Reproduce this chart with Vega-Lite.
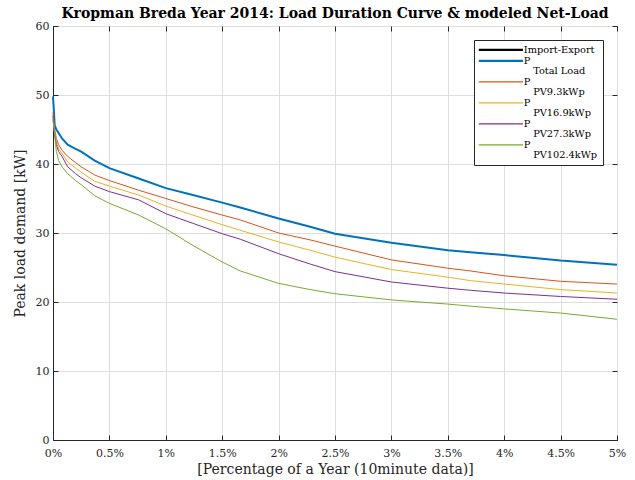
{
  "$schema": "https://vega.github.io/schema/vega-lite/v6.json",
  "width": 564,
  "height": 414,
  "autosize": {"type": "none"},
  "padding": {"left": 53, "top": 26, "right": 18, "bottom": 40},
  "background": "white",
  "title": {
    "text": "Kropman Breda Year 2014: Load Duration Curve & modeled Net-Load",
    "font": "DejaVu Serif",
    "fontSize": 14,
    "fontWeight": "bold",
    "color": "black",
    "anchor": "middle",
    "baseline": "bottom",
    "offset": 1,
    "dy": 16
  },
  "config": {
    "font": "DejaVu Serif",
    "view": {"stroke": "#262626", "strokeWidth": 1},
    "axis": {
      "labelFont": "DejaVu Serif",
      "titleFont": "DejaVu Serif",
      "labelFontSize": 11,
      "titleFontSize": 14,
      "titleFontWeight": "normal",
      "labelColor": "#262626",
      "titleColor": "#262626",
      "domainColor": "#262626",
      "tickColor": "#262626",
      "gridColor": "#dedede",
      "gridWidth": 1
    },
    "line": {"clip": true}
  },
  "datasets": {
    "curves": [
      {"pct": 0, "series": "Total Load", "kW": 49.8}, {"pct": 0.005, "series": "Total Load", "kW": 48.5}, {"pct": 0.015, "series": "Total Load", "kW": 45.6}, {"pct": 0.03, "series": "Total Load", "kW": 45.0}, {"pct": 0.05, "series": "Total Load", "kW": 44.5}, {"pct": 0.08, "series": "Total Load", "kW": 43.7}, {"pct": 0.13, "series": "Total Load", "kW": 42.8}, {"pct": 0.2, "series": "Total Load", "kW": 42.2}, {"pct": 0.25, "series": "Total Load", "kW": 41.8}, {"pct": 0.37, "series": "Total Load", "kW": 40.5}, {"pct": 0.5, "series": "Total Load", "kW": 39.4}, {"pct": 0.76, "series": "Total Load", "kW": 37.9}, {"pct": 1.0, "series": "Total Load", "kW": 36.5}, {"pct": 1.24, "series": "Total Load", "kW": 35.5}, {"pct": 1.5, "series": "Total Load", "kW": 34.4}, {"pct": 1.66, "series": "Total Load", "kW": 33.7}, {"pct": 2.0, "series": "Total Load", "kW": 32.1}, {"pct": 2.28, "series": "Total Load", "kW": 30.9}, {"pct": 2.5, "series": "Total Load", "kW": 29.9}, {"pct": 3.0, "series": "Total Load", "kW": 28.6}, {"pct": 3.5, "series": "Total Load", "kW": 27.5}, {"pct": 3.7, "series": "Total Load", "kW": 27.2}, {"pct": 4.0, "series": "Total Load", "kW": 26.8}, {"pct": 4.5, "series": "Total Load", "kW": 26.0}, {"pct": 5.0, "series": "Total Load", "kW": 25.4},
      {"pct": 0, "series": "PV9.3kWp", "kW": 47.5}, {"pct": 0.005, "series": "PV9.3kWp", "kW": 46.5}, {"pct": 0.015, "series": "PV9.3kWp", "kW": 45.0}, {"pct": 0.03, "series": "PV9.3kWp", "kW": 43.7}, {"pct": 0.05, "series": "PV9.3kWp", "kW": 42.8}, {"pct": 0.08, "series": "PV9.3kWp", "kW": 42.0}, {"pct": 0.13, "series": "PV9.3kWp", "kW": 41.1}, {"pct": 0.2, "series": "PV9.3kWp", "kW": 40.2}, {"pct": 0.25, "series": "PV9.3kWp", "kW": 39.6}, {"pct": 0.37, "series": "PV9.3kWp", "kW": 38.4}, {"pct": 0.5, "series": "PV9.3kWp", "kW": 37.6}, {"pct": 0.76, "series": "PV9.3kWp", "kW": 36.2}, {"pct": 1.0, "series": "PV9.3kWp", "kW": 35.0}, {"pct": 1.24, "series": "PV9.3kWp", "kW": 33.8}, {"pct": 1.5, "series": "PV9.3kWp", "kW": 32.6}, {"pct": 1.66, "series": "PV9.3kWp", "kW": 31.9}, {"pct": 2.0, "series": "PV9.3kWp", "kW": 30.0}, {"pct": 2.28, "series": "PV9.3kWp", "kW": 29.0}, {"pct": 2.5, "series": "PV9.3kWp", "kW": 28.1}, {"pct": 3.0, "series": "PV9.3kWp", "kW": 26.1}, {"pct": 3.5, "series": "PV9.3kWp", "kW": 24.9}, {"pct": 3.7, "series": "PV9.3kWp", "kW": 24.5}, {"pct": 4.0, "series": "PV9.3kWp", "kW": 23.8}, {"pct": 4.5, "series": "PV9.3kWp", "kW": 23.0}, {"pct": 5.0, "series": "PV9.3kWp", "kW": 22.6},
      {"pct": 0, "series": "PV16.9kWp", "kW": 47.0}, {"pct": 0.005, "series": "PV16.9kWp", "kW": 46.0}, {"pct": 0.015, "series": "PV16.9kWp", "kW": 44.5}, {"pct": 0.03, "series": "PV16.9kWp", "kW": 43.2}, {"pct": 0.05, "series": "PV16.9kWp", "kW": 42.2}, {"pct": 0.08, "series": "PV16.9kWp", "kW": 41.5}, {"pct": 0.13, "series": "PV16.9kWp", "kW": 40.3}, {"pct": 0.2, "series": "PV16.9kWp", "kW": 39.4}, {"pct": 0.25, "series": "PV16.9kWp", "kW": 38.8}, {"pct": 0.37, "series": "PV16.9kWp", "kW": 37.5}, {"pct": 0.5, "series": "PV16.9kWp", "kW": 36.8}, {"pct": 0.76, "series": "PV16.9kWp", "kW": 35.5}, {"pct": 1.0, "series": "PV16.9kWp", "kW": 33.9}, {"pct": 1.24, "series": "PV16.9kWp", "kW": 32.6}, {"pct": 1.5, "series": "PV16.9kWp", "kW": 31.2}, {"pct": 1.66, "series": "PV16.9kWp", "kW": 30.4}, {"pct": 2.0, "series": "PV16.9kWp", "kW": 28.7}, {"pct": 2.28, "series": "PV16.9kWp", "kW": 27.5}, {"pct": 2.5, "series": "PV16.9kWp", "kW": 26.5}, {"pct": 3.0, "series": "PV16.9kWp", "kW": 24.7}, {"pct": 3.5, "series": "PV16.9kWp", "kW": 23.6}, {"pct": 3.7, "series": "PV16.9kWp", "kW": 23.1}, {"pct": 4.0, "series": "PV16.9kWp", "kW": 22.6}, {"pct": 4.5, "series": "PV16.9kWp", "kW": 21.8}, {"pct": 5.0, "series": "PV16.9kWp", "kW": 21.3},
      {"pct": 0, "series": "PV27.3kWp", "kW": 47.0}, {"pct": 0.005, "series": "PV27.3kWp", "kW": 45.8}, {"pct": 0.015, "series": "PV27.3kWp", "kW": 44.2}, {"pct": 0.03, "series": "PV27.3kWp", "kW": 42.8}, {"pct": 0.05, "series": "PV27.3kWp", "kW": 41.8}, {"pct": 0.08, "series": "PV27.3kWp", "kW": 41.1}, {"pct": 0.13, "series": "PV27.3kWp", "kW": 39.6}, {"pct": 0.2, "series": "PV27.3kWp", "kW": 38.6}, {"pct": 0.25, "series": "PV27.3kWp", "kW": 38.0}, {"pct": 0.37, "series": "PV27.3kWp", "kW": 36.8}, {"pct": 0.5, "series": "PV27.3kWp", "kW": 36.0}, {"pct": 0.76, "series": "PV27.3kWp", "kW": 34.8}, {"pct": 1.0, "series": "PV27.3kWp", "kW": 32.8}, {"pct": 1.24, "series": "PV27.3kWp", "kW": 31.4}, {"pct": 1.5, "series": "PV27.3kWp", "kW": 29.9}, {"pct": 1.66, "series": "PV27.3kWp", "kW": 29.1}, {"pct": 2.0, "series": "PV27.3kWp", "kW": 27.0}, {"pct": 2.28, "series": "PV27.3kWp", "kW": 25.5}, {"pct": 2.5, "series": "PV27.3kWp", "kW": 24.4}, {"pct": 3.0, "series": "PV27.3kWp", "kW": 22.9}, {"pct": 3.5, "series": "PV27.3kWp", "kW": 22.0}, {"pct": 3.7, "series": "PV27.3kWp", "kW": 21.7}, {"pct": 4.0, "series": "PV27.3kWp", "kW": 21.3}, {"pct": 4.5, "series": "PV27.3kWp", "kW": 20.8}, {"pct": 5.0, "series": "PV27.3kWp", "kW": 20.4},
      {"pct": 0, "series": "PV102.4kWp", "kW": 46.5}, {"pct": 0.005, "series": "PV102.4kWp", "kW": 45.5}, {"pct": 0.015, "series": "PV102.4kWp", "kW": 44.2}, {"pct": 0.03, "series": "PV102.4kWp", "kW": 41.8}, {"pct": 0.05, "series": "PV102.4kWp", "kW": 40.5}, {"pct": 0.08, "series": "PV102.4kWp", "kW": 39.6}, {"pct": 0.13, "series": "PV102.4kWp", "kW": 38.6}, {"pct": 0.2, "series": "PV102.4kWp", "kW": 37.6}, {"pct": 0.25, "series": "PV102.4kWp", "kW": 37.0}, {"pct": 0.37, "series": "PV102.4kWp", "kW": 35.4}, {"pct": 0.5, "series": "PV102.4kWp", "kW": 34.3}, {"pct": 0.76, "series": "PV102.4kWp", "kW": 32.6}, {"pct": 1.0, "series": "PV102.4kWp", "kW": 30.6}, {"pct": 1.24, "series": "PV102.4kWp", "kW": 28.2}, {"pct": 1.5, "series": "PV102.4kWp", "kW": 25.8}, {"pct": 1.66, "series": "PV102.4kWp", "kW": 24.5}, {"pct": 2.0, "series": "PV102.4kWp", "kW": 22.7}, {"pct": 2.28, "series": "PV102.4kWp", "kW": 21.8}, {"pct": 2.5, "series": "PV102.4kWp", "kW": 21.2}, {"pct": 3.0, "series": "PV102.4kWp", "kW": 20.3}, {"pct": 3.5, "series": "PV102.4kWp", "kW": 19.7}, {"pct": 3.7, "series": "PV102.4kWp", "kW": 19.4}, {"pct": 4.0, "series": "PV102.4kWp", "kW": 19.0}, {"pct": 4.5, "series": "PV102.4kWp", "kW": 18.4}, {"pct": 5.0, "series": "PV102.4kWp", "kW": 17.5}
    ]
  },
  "data": {"name": "curves"},
  "layer": [
    {
      "mark": {"type": "line"},
      "encoding": {
        "x": {
          "field": "pct", "type": "quantitative",
          "scale": {"domain": [0, 5], "nice": false},
          "axis": {
            "title": "[Percentage of a Year (10minute data)]",
            "values": [0, 0.5, 1, 1.5, 2, 2.5, 3, 3.5, 4, 4.5, 5],
            "labelExpr": "datum.value + '%'",
            "tickSize": -5,
            "labelPadding": 12,
            "titlePadding": 4,
            "labelFlush": false
          }
        },
        "y": {
          "field": "kW", "type": "quantitative",
          "scale": {"domain": [0, 60], "nice": false},
          "axis": {
            "title": "Peak load demand [kW]",
            "values": [0, 10, 20, 30, 40, 50, 60],
            "tickSize": -5,
            "labelPadding": 9,
            "titlePadding": 8
          }
        },
        "color": {
          "field": "series", "type": "nominal",
          "scale": {
            "domain": ["Import-Export", "Total Load", "PV9.3kWp", "PV16.9kWp", "PV27.3kWp", "PV102.4kWp"],
            "range": ["#000000", "#0072BD", "#D95319", "#EDB120", "#7E2F8E", "#77AC30"]
          },
          "legend": {
            "title": null,
            "orient": "top-right",
            "offset": 14,
            "symbolType": "M-0.6,0H4.6",
            "symbolSize": 289,
            "symbolStrokeWidth": 1.2,
            "labelOffset": 35,
            "labelFont": "DejaVu Serif",
            "labelFontSize": 9.8,
            "labelColor": "black",
            "labelLimit": 200,
            "labelExpr": "datum.label == 'Import-Export' ? datum.label : ['P', '\u200b\u00a0\u00a0\u00a0' + datum.label]",
            "rowPadding": 0,
            "padding": 5,
            "strokeColor": "#262626",
            "fillColor": "white",
            "encode": {
              "symbols": {
                "update": {
                  "strokeWidth": {"signal": "indexof(['Import-Export', 'Total Load'], datum.value) >= 0 ? 2.2 : 1.2"}
                }
              },
              "labels": {
                "update": {
                  "lineHeight": {"value": 9.8}
                }
              }
            }
          }
        },
        "strokeWidth": {
          "condition": {"test": "datum.series == 'Total Load'", "value": 2},
          "value": 1
        }
      }
    },
    {
      "mark": {"type": "line", "opacity": 0},
      "encoding": {
        "x": {
          "field": "pct", "type": "quantitative",
          "axis": {"orient": "top", "title": null, "labels": false, "grid": false, "domain": false,
                   "values": [0, 0.5, 1, 1.5, 2, 2.5, 3, 3.5, 4, 4.5, 5], "tickSize": -5}
        },
        "y": {
          "field": "kW", "type": "quantitative",
          "axis": {"orient": "right", "title": null, "labels": false, "grid": false, "domain": false,
                   "values": [0, 10, 20, 30, 40, 50, 60], "tickSize": -5}
        },
        "detail": {"field": "series"}
      }
    }
  ],
  "resolve": {"axis": {"x": "independent", "y": "independent"}}
}
